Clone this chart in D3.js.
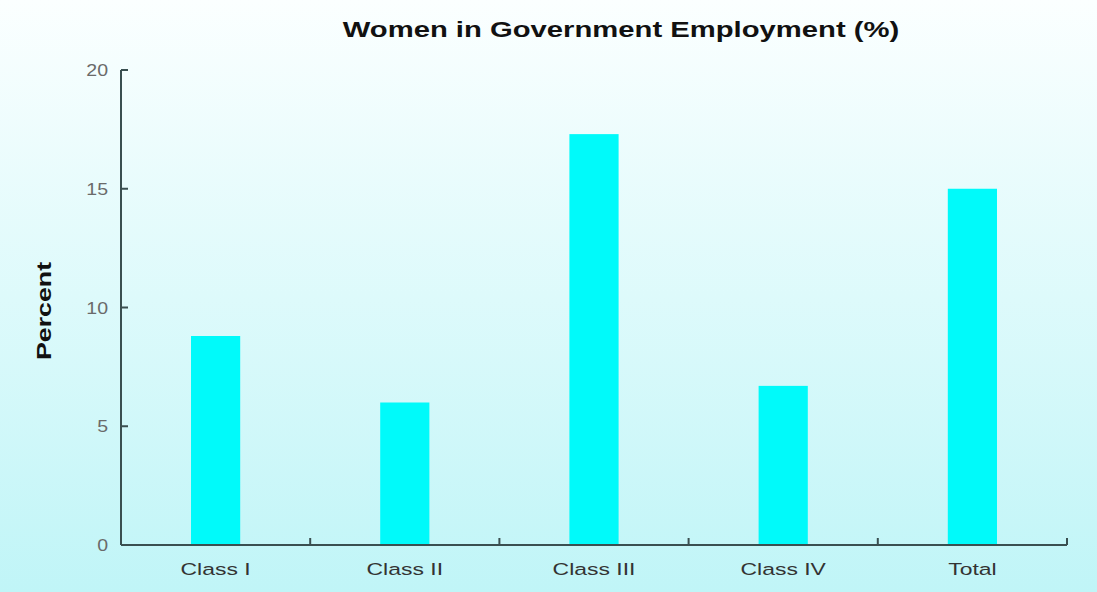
<!DOCTYPE html>
<meta charset="utf-8">
<style>
  body { margin: 0; }
  svg { display: block; font-family: "Liberation Sans", Arial, sans-serif; }
  .axis-line { stroke: #3a4f50; stroke-width: 2px; fill: none; }
  .ytick text { fill: #6a6a6a; font-size: 17px; }
  .xlabel { fill: #333; font-size: 17px; }
</style>
<body>
<script src="https://cdn.jsdelivr.net/npm/d3@7/dist/d3.min.js"></script>
<script>
  var categories = ["Class I", "Class II", "Class III", "Class IV", "Total"];
  var values = [8.8, 6.0, 17.3, 6.7, 15.0];
  var yTicks = [0, 5, 10, 15, 20];

  var W = 1097, H = 592;
  var plotLeft = 121, plotRight = 1067, plotTop = 70, plotBottom = 545;
  var stretch = 1.35; // the original font is quite wide

  var svg = d3.select("body").append("svg")
      .attr("width", W)
      .attr("height", H);

  // background gradient
  var grad = svg.append("defs").append("linearGradient")
      .attr("id", "bg").attr("x1", 0).attr("y1", 0).attr("x2", 0).attr("y2", 1);
  grad.append("stop").attr("offset", "0%").attr("stop-color", "#fbffff");
  grad.append("stop").attr("offset", "100%").attr("stop-color", "#c0f5f7");
  svg.append("rect").attr("width", W).attr("height", H).attr("fill", "url(#bg)");

  var x = d3.scaleBand().domain(categories).range([plotLeft, plotRight])
      .paddingInner(0.74).paddingOuter(0.37);
  var y = d3.scaleLinear().domain([0, 20]).range([plotBottom, plotTop]);

  // bars
  svg.selectAll(".bar").data(values).enter().append("rect")
      .attr("class", "bar")
      .attr("x", function(d, i) { return x(categories[i]); })
      .attr("width", x.bandwidth())
      .attr("y", function(d) { return y(d); })
      .attr("height", function(d) { return y(0) - y(d); })
      .attr("fill", "#00fafa");

  // y axis
  svg.append("line").attr("class", "axis-line")
      .attr("x1", plotLeft).attr("x2", plotLeft).attr("y1", y(20)).attr("y2", y(0));
  var yt = svg.selectAll(".ytick").data(yTicks).enter().append("g")
      .attr("class", "ytick")
      .attr("transform", function(d) { return "translate(0," + y(d) + ")"; });
  yt.append("line").attr("class", "axis-line")
      .attr("x1", plotLeft).attr("x2", plotLeft + 7);
  yt.append("text")
      .attr("transform", "translate(" + (plotLeft - 13) + ",0) scale(1.15,1)")
      .attr("dy", "0.36em")
      .attr("text-anchor", "end").text(function(d) { return d; });

  // x axis
  svg.append("line").attr("class", "axis-line")
      .attr("x1", plotLeft).attr("x2", plotRight).attr("y1", y(0)).attr("y2", y(0));
  var step = x.step();
  svg.selectAll(".xtick").data(categories).enter().append("line")
      .attr("class", "axis-line")
      .attr("x1", function(d, i) { return plotLeft + step * (i + 1); })
      .attr("x2", function(d, i) { return plotLeft + step * (i + 1); })
      .attr("y1", y(0)).attr("y2", y(0) - 7);
  svg.selectAll(".xlabel").data(categories).enter().append("text")
      .attr("class", "xlabel")
      .attr("transform", function(d) {
        return "translate(" + (x(d) + x.bandwidth() / 2) + "," + (y(0) + 30) + ") scale(" + stretch + ",1)";
      })
      .attr("text-anchor", "middle")
      .text(function(d) { return d; });

  // titles
  svg.append("text")
      .attr("transform", "translate(621,37) scale(1.3,1)")
      .attr("text-anchor", "middle")
      .attr("font-size", "22.5px").attr("font-weight", "bold").attr("fill", "#111")
      .text("Women in Government Employment (%)");

  svg.append("text")
      .attr("transform", "translate(51,311) rotate(-90) scale(1.34,1)")
      .attr("text-anchor", "middle")
      .attr("font-size", "20px").attr("font-weight", "bold").attr("fill", "#111")
      .text("Percent");
</script>
</body>
